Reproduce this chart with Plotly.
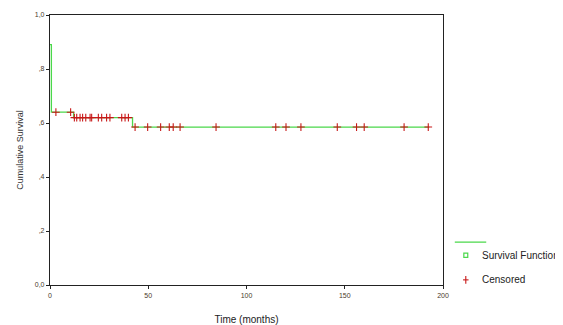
import plotly.graph_objects as go

step_times = [0, 0.7, 12, 42, 193]
step_surv = [0.89, 0.64, 0.62, 0.585, 0.585]

cens_times_a = [3, 10.5]
cens_times_b = [12.4, 13.6, 15.3, 16.6, 18.2, 20.4, 21.2, 24.6, 26.3, 28.8, 30.5, 36.5, 38.2, 39.9]
cens_times_c = [43.3, 49.7, 56.3, 60.7, 62.7, 66.2, 84.5, 114.9, 120.1, 127.7, 146.2, 156, 159.9, 180.2, 192.5]
cens_times = cens_times_a + cens_times_b + cens_times_c
cens_surv = [0.64] * len(cens_times_a) + [0.62] * len(cens_times_b) + [0.585] * len(cens_times_c)

y_ticks = [0, 0.2, 0.4, 0.6, 0.8, 1.0]
y_labels = ["0,0", ",2", ",4", ",6", ",8", "1,0"]
x_ticks = [0, 50, 100, 150, 200]

GREEN = "#4bd84b"
RED = "#c81818"

fig = go.Figure()
fig.add_trace(go.Scatter(x=step_times, y=step_surv, mode="lines", line=dict(color=GREEN, width=1.3, shape="hv"),
                         showlegend=False, hoverinfo="skip"))
fig.add_trace(go.Scatter(x=cens_times, y=cens_surv, mode="markers",
                         marker=dict(symbol="cross-thin", size=5.5, line=dict(color=RED, width=1.1)),
                         showlegend=False))

font = "Liberation Sans, Arial, sans-serif"
fig.update_layout(
    width=555, height=317,
    margin=dict(l=42, r=120, t=7, b=40, autoexpand=False),
    paper_bgcolor="white", plot_bgcolor="white",
    font=dict(family=font, color="#333"),
    xaxis=dict(range=[0, 200], tickvals=x_ticks, ticks="outside", ticklen=3, tickcolor="#222",
               showline=True, linecolor="#222", linewidth=1.2, mirror=True, showgrid=False, zeroline=False,
               automargin=False,
               tickfont=dict(size=7, color="#4a3a2a"),
               title=dict(text="Time (months)", font=dict(size=10, color="#222"), standoff=30)),
    yaxis=dict(range=[0, 1.0], tickvals=y_ticks, ticktext=y_labels, ticks="outside", ticklen=3, tickcolor="#222",
               showline=True, linecolor="#222", linewidth=1.2, mirror=True, showgrid=False, zeroline=False,
               automargin=False,
               tickfont=dict(size=7, color="#4a3a2a"),
               title=dict(text="Cumulative Survival", font=dict(size=9, color="#333"), standoff=9)),
)

# legend drawn manually
fig.add_shape(type="line", xref="paper", yref="paper", x0=1.03, x1=1.11, y0=0.159, y1=0.159,
              line=dict(color=GREEN, width=1.3))
fig.add_shape(type="rect", xref="paper", yref="paper", x0=1.053, x1=1.063, y0=0.102, y1=0.118,
              line=dict(color=GREEN, width=1.2), fillcolor="white")
fig.add_annotation(xref="paper", yref="paper", x=1.094, y=0.11, text="Survival Function", showarrow=False,
                   xanchor="left", yanchor="middle", font=dict(size=10, color="#222"))
fig.add_shape(type="line", xref="paper", yref="paper", x0=1.051, x1=1.065, y0=0.019, y1=0.019,
              line=dict(color=RED, width=1.1))
fig.add_shape(type="line", xref="paper", yref="paper", x0=1.058, x1=1.058, y0=0.005, y1=0.033,
              line=dict(color=RED, width=1.1))
fig.add_annotation(xref="paper", yref="paper", x=1.094, y=0.019, text="Censored", showarrow=False,
                   xanchor="left", yanchor="middle", font=dict(size=10, color="#222"))

fig.write_html("out.html")
